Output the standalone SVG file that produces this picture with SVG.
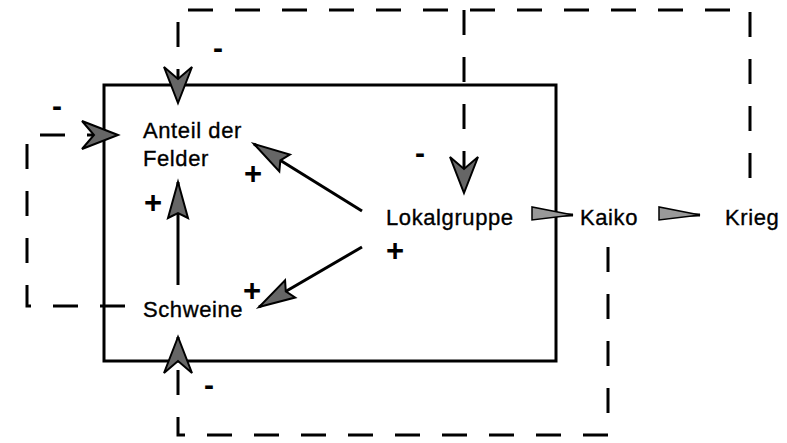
<svg xmlns="http://www.w3.org/2000/svg" width="787" height="443" viewBox="0 0 787 443">
<style>
.lbl{font-family:"Liberation Sans",Arial,sans-serif;font-size:22px;letter-spacing:0.6px;fill:#000;stroke:#000;stroke-width:0.35}
.plus{font-family:"Liberation Sans",Arial,sans-serif;font-size:31px;font-weight:bold;fill:#000;text-anchor:middle}
.minus{font-family:"Liberation Sans",Arial,sans-serif;font-size:30px;font-weight:bold;fill:#000;text-anchor:middle}
.solid{fill:none;stroke:#000;stroke-width:3}
.dash{fill:none;stroke:#000;stroke-width:3;stroke-dasharray:25 22}
.box{fill:none;stroke:#000;stroke-width:3}
.head{fill:#666;stroke:#000;stroke-width:2;stroke-linejoin:miter}
.flag{fill:#999;stroke:#000;stroke-width:1.5}
</style>
<defs>
<marker id="arrSolid" markerUnits="userSpaceOnUse" viewBox="-40 -14 44 28" refX="0" refY="0" markerWidth="44" markerHeight="28" orient="auto" overflow="visible">
<path class="head" d="M0,0 L-36,-10 L-31,0 L-36,10 Z"/>
</marker>
<marker id="arrDash" markerUnits="userSpaceOnUse" viewBox="-40 -16 44 32" refX="0" refY="0" markerWidth="44" markerHeight="32" orient="auto" overflow="visible">
<path class="head" d="M0,0 L-36,-14 L-24,0 L-36,14 Z"/>
</marker>
<marker id="arrFlag" markerUnits="userSpaceOnUse" viewBox="-44 -10 48 20" refX="0" refY="0" markerWidth="48" markerHeight="20" orient="auto" overflow="visible">
<path class="flag" d="M0,0 L-41,-8 L-41,5 Z"/>
</marker>
</defs>

<rect id="system-box" class="box" x="104" y="85" width="452" height="276"/>

<g id="connectors">
<path class="solid" d="M178,285 V182" marker-end="url(#arrSolid)"/>
<path class="solid" d="M362,211 L254,144" marker-end="url(#arrSolid)"/>
<path class="solid" d="M362,247 L259,307" marker-end="url(#arrSolid)"/>
<path class="solid" d="M532,215 H573" marker-end="url(#arrFlag)"/>
<path class="solid" d="M663,215 H700" marker-end="url(#arrFlag)"/>
<path class="dash" d="M750,178 V10 H178 V103" marker-end="url(#arrDash)"/>
<path class="dash" d="M464,10 V193" marker-end="url(#arrDash)"/>
<path class="dash" d="M125,306 H27 V135 H118" marker-end="url(#arrDash)"/>
<path class="dash" d="M608,247 V435 H178 V337" marker-end="url(#arrDash)"/>
</g>

<g id="signs">
<text class="minus" x="218" y="58">-</text>
<text class="minus" x="57" y="116">-</text>
<text class="minus" x="420" y="163">-</text>
<text class="minus" x="209" y="395">-</text>
<text class="plus" x="253" y="184">+</text>
<text class="plus" x="153" y="213">+</text>
<text class="plus" x="252" y="301">+</text>
<text class="plus" x="395" y="261">+</text>
</g>

<g id="node-anteil"><text class="lbl" x="143" y="138">Anteil der</text><text class="lbl" x="143" y="166">Felder</text></g>
<g id="node-schweine"><text class="lbl" x="143" y="317">Schweine</text></g>
<g id="node-lokalgruppe"><text class="lbl" x="386" y="225">Lokalgruppe</text></g>
<g id="node-kaiko"><text class="lbl" x="580" y="225">Kaiko</text></g>
<g id="node-krieg"><text class="lbl" x="725" y="225">Krieg</text></g>
</svg>
